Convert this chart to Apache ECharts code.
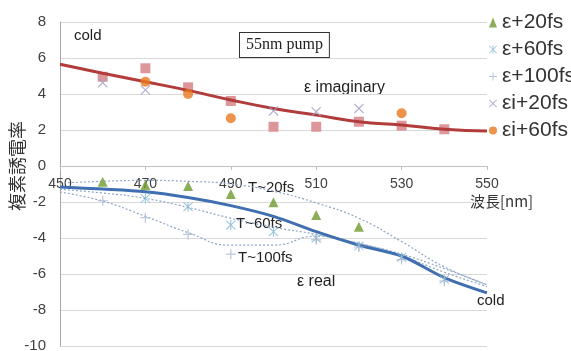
<!DOCTYPE html>
<html>
<head>
<meta charset="utf-8">
<script src="https://cdn.jsdelivr.net/npm/echarts@6/dist/echarts.min.js"></script>
<style>
  html, body { margin: 0; padding: 0; background: #fff; }
  #chart { width: 571px; height: 351px; }
</style>
</head>
<body>
<div id="chart"></div>
<script>
// wavelength [nm]
const wl = [450, 460, 470, 480, 490, 500, 510, 520, 530, 540, 550];

// cold curves
const coldImag = [5.65, 5.15, 4.68, 4.2, 3.67, 3.2, 2.83, 2.46, 2.28, 2.04, 1.94];
const coldReal = [-1.17, -1.28, -1.43, -1.75, -2.2, -2.8, -3.65, -4.4, -5.0, -6.2, -7.05];

// measured points
const imagSq  = [null, 4.96, 5.43, 4.37, 3.61, 2.18, 2.18, 2.46, 2.24, 2.04, null];
const eps20   = [null, -0.87, -1.06, -1.11, -1.56, -2.02, -2.72, -3.37, null, null, null];
const eps60   = [null, null, -1.8, -2.26, -3.28, -3.65, -4.02, -4.44, -5.07, -6.3, null];
const eps100  = [null, -1.93, -2.87, -3.8, -4.9, null, -4.1, -4.5, -5.2, -6.4, null];
const epsI20  = [null, 4.63, 4.22, null, null, 3.06, 3.02, 3.2, null, null, null];
const epsI60  = [null, null, 4.68, 4.0, 2.65, null, null, null, 2.93, null, null];

// dotted trend lines
const trend20  = [-0.95, -0.85, -0.8, -0.85, -1.0, -1.4, -2.05, -2.9, -4.2, -5.6, -6.6];
const trend60  = [-1.3, -1.5, -1.8, -2.3, -2.9, -3.4, -3.8, -4.3, -4.9, -5.7, -6.6];
const trend100 = [-1.45, -1.95, -2.8, -3.7, -4.4, -4.4, -3.9, -4.3, -5.0, -5.9, -6.7];

const pairs = (vals) => wl.map((x, i) => [x, vals[i]]).filter(p => p[1] !== null);

const plusPath = 'path://M4.4,0h1.2v4.4h4.4v1.2h-4.4v4.4h-1.2v-4.4h-4.4v-1.2h4.4z';
const crossPath = 'path://M1,0.2L5,4.2L9,0.2L9.8,1L5.8,5L9.8,9L9,9.8L5,5.8L1,9.8L0.2,9L4.2,5L0.2,1Z';
const starPath = 'path://M4.5,0h1v10h-1z M1,0.3L5,4.3L9,0.3L9.7,1L5.7,5L9.7,9L9,9.7L5,5.7L1,9.7L0.3,9L4.3,5L0.3,1Z';

const chart = echarts.init(document.getElementById('chart'));

const trendStyle = { color: '#8fa6c6', width: 1.2, type: [2, 2] };

chart.setOption({
  animation: false,
  grid: { left: 60, right: 84, top: 22, bottom: 5, outerBoundsMode: 'none', containLabel: false },
  legend: {
    orient: 'vertical',
    left: 484,
    top: 7,
    itemWidth: 8,
    itemHeight: 10,
    itemGap: 6,
    textStyle: { fontSize: 21, color: '#333', fontFamily: 'Liberation Sans', lineHeight: 21 },
    data: ['ε+20fs', 'ε+60fs', 'ε+100fs', 'εi+20fs', 'εi+60fs']
  },
  xAxis: {
    type: 'value',
    min: 450,
    max: 550,
    interval: 20,
    position: 'bottom',
    offset: -180,
    axisLine: { onZero: false, lineStyle: { color: '#bfbfbf' } },
    axisTick: { show: true, length: 4, lineStyle: { color: '#bfbfbf' } },
    axisLabel: { fontSize: 14, color: '#404040', margin: 11 },
    splitLine: { show: false }
  },
  yAxis: {
    type: 'value',
    min: -10,
    max: 8,
    interval: 2,
    axisLine: { show: true, onZero: false, lineStyle: { color: '#a6a6a6' } },
    axisTick: { show: false },
    axisLabel: { fontSize: 15, color: '#404040', margin: 14 },
    splitLine: { lineStyle: { color: '#d9d9d9' } }
  },
  series: [
    { name: 'trend20', type: 'line', data: pairs(trend20), smooth: true, showSymbol: false, lineStyle: trendStyle, z: 1 },
    { name: 'trend60', type: 'line', data: pairs(trend60), smooth: true, showSymbol: false, lineStyle: trendStyle, z: 1 },
    { name: 'trend100', type: 'line', data: pairs(trend100), smooth: true, showSymbol: false, lineStyle: trendStyle, z: 1 },
    { name: 'imagSq', type: 'scatter', data: pairs(imagSq), symbol: 'rect', symbolSize: 10,
      itemStyle: { color: '#d98c8f', opacity: 0.9 }, z: 2 },
    { name: 'coldImag', type: 'line', data: pairs(coldImag), smooth: true, showSymbol: false,
      lineStyle: { color: '#b23b3b', width: 3 }, z: 3 },
    { name: 'coldReal', type: 'line', data: pairs(coldReal), smooth: 0.3, showSymbol: false,
      lineStyle: { color: '#3f6fb0', width: 3 }, z: 3 },
    { name: 'ε+20fs', type: 'scatter', data: pairs(eps20), symbol: 'triangle', symbolSize: 10,
      itemStyle: { color: '#6f9a2e' }, z: 4 },
    { name: 'ε+60fs', type: 'scatter', data: pairs(eps60), symbol: starPath, symbolSize: 10,
      itemStyle: { color: '#7fb6d0' }, z: 4 },
    { name: 'ε+100fs', type: 'scatter', data: pairs(eps100), symbol: plusPath, symbolSize: 10,
      itemStyle: { color: '#a9b8d2' }, z: 4 },
    { name: 'εi+20fs', type: 'scatter', data: pairs(epsI20), symbol: crossPath, symbolSize: 10,
      itemStyle: { color: '#9e9ec4' }, z: 4 },
    { name: 'εi+60fs', type: 'scatter', data: pairs(epsI60), symbol: 'circle', symbolSize: 10,
      itemStyle: { color: '#e8781e' }, z: 4 }
  ],
  graphic: [
    { type: 'text', left: 74, top: 28, style: { text: 'cold', fontSize: 15, fill: '#222', fontFamily: 'Liberation Sans' } },
    { type: 'text', left: 304, top: 80, style: { text: 'ε imaginary', fontSize: 16, fill: '#222', fontFamily: 'Liberation Sans' } },
    { type: 'text', left: 239, top: 32,
      style: { text: '55nm pump', fontSize: 16, fill: '#222', fontFamily: 'Liberation Serif',
        backgroundColor: '#fff', borderColor: '#333', borderWidth: 1, padding: [4, 6, 4, 6] } },
    { type: 'text', left: 248, top: 180, style: { text: 'T~20fs', fontSize: 15, fill: '#222', fontFamily: 'Liberation Sans' } },
    { type: 'text', left: 236, top: 216, style: { text: 'T~60fs', fontSize: 15, fill: '#222', fontFamily: 'Liberation Sans' } },
    { type: 'text', left: 238, top: 250, style: { text: 'T~100fs', fontSize: 15, fill: '#222', fontFamily: 'Liberation Sans' } },
    { type: 'text', left: 297, top: 274, style: { text: 'ε real', fontSize: 16, fill: '#222', fontFamily: 'Liberation Sans' } },
    { type: 'text', left: 477, top: 293, style: { text: 'cold', fontSize: 15, fill: '#222', fontFamily: 'Liberation Sans' } },
    { type: 'text', left: 470, top: 194, style: { text: '波長[nm]', fontSize: 15, fill: '#333', fontFamily: 'Noto Sans CJK JP' } },
    { type: 'text', x: 17, y: 166, rotation: Math.PI / 2,
      style: { text: '複素誘電率', fontSize: 18, fill: '#333', fontFamily: 'Noto Sans CJK JP',
        textAlign: 'center', textVerticalAlign: 'middle' } }
  ]
});
</script>
</body>
</html>
